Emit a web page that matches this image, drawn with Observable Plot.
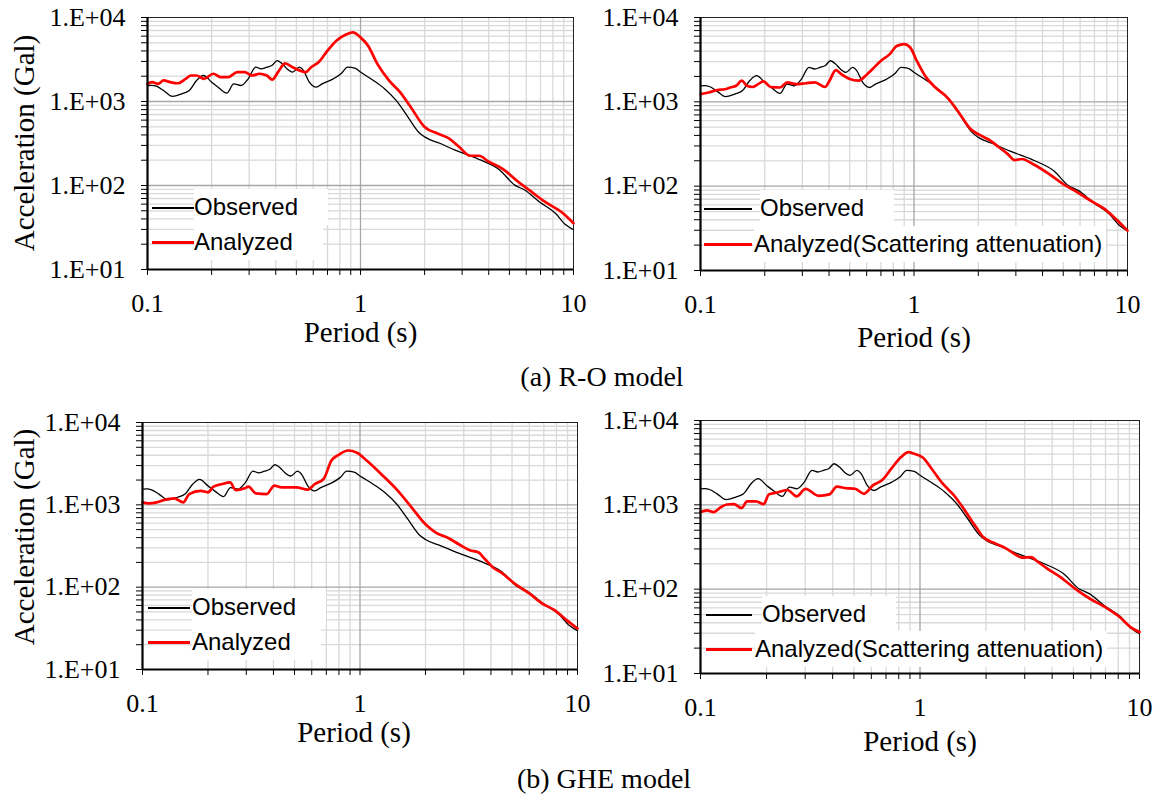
<!DOCTYPE html>
<html><head><meta charset="utf-8">
<script src="https://cdn.jsdelivr.net/npm/d3@7"></script>
<script src="https://cdn.jsdelivr.net/npm/@observablehq/plot@0.6"></script>
<style>
body{margin:0;background:#fff;}
#fig{position:relative;width:1155px;height:794px;font-family:"Liberation Serif","Times New Roman",serif;color:#000;overflow:hidden;}
.panel{position:absolute;}
.cap{position:absolute;font-size:28px;transform:translate(-50%,-50%);white-space:nowrap;}
.ytitle{position:absolute;font-size:29px;transform:translate(-50%,-50%) rotate(-90deg);white-space:nowrap;line-height:1;}
.lg-line{position:absolute;height:0;}
.lg-text{position:absolute;font-family:"Liberation Sans",Arial,sans-serif;font-size:24px;background:#fff;line-height:36px;white-space:nowrap;}
</style></head><body><div id="fig"></div>
<script>
// ---- data ----
const obsT = [0.1,0.105,0.11,0.119,0.131,0.145,0.157,0.17,0.183,0.2,0.216,0.236,0.254,0.275,0.297,0.322,0.342,0.363,0.385,0.406,0.43,0.452,0.48,0.516,0.54,0.575,0.62,0.66,0.745,0.81,0.87,0.94,1.0,1.15,1.3,1.47,1.65,1.87,2.0,2.37,2.78,3.14,3.68,4.5,5.3,5.9,6.9,8.2,9.2,10];
const obsA = [1550,1560,1520,1350,1150,1236,1350,1780,2040,1700,1456,1260,1620,1550,1860,2560,2450,2560,2700,3070,2800,2450,2240,2560,2330,1700,1480,1620,1860,2140,2560,2500,2240,1780,1410,1030,684,434,379,316,264,235,200,153,101,88.5,64,47,34,29.7];

const roT = [0.1,0.105,0.112,0.119,0.128,0.139,0.151,0.16,0.17,0.184,0.204,0.22,0.239,0.264,0.286,0.31,0.335,0.363,0.385,0.41,0.443,0.48,0.52,0.553,0.586,0.635,0.7,0.77,0.86,0.92,1.0,1.085,1.2,1.36,1.53,1.72,2.0,2.3,2.6,2.9,3.27,3.6,4.0,4.7,5.5,6.4,7.3,8.9,10];
const roA = [1620,1700,1620,1780,1700,1650,1860,2040,2040,1860,2140,1950,1950,2240,2240,2040,2140,2040,1820,2240,2850,2560,2330,2240,2560,2930,4030,5290,6330,6640,5800,4600,2800,1780,1300,859,498,415,363,289,226,226,192,155,111,83,64.6,47,35.5];

const roScT = [0.1,0.109,0.12,0.13,0.138,0.147,0.156,0.165,0.175,0.186,0.197,0.213,0.236,0.255,0.281,0.31,0.343,0.383,0.402,0.43,0.46,0.5,0.55,0.6,0.64,0.7,0.77,0.83,0.9,0.96,1.03,1.14,1.26,1.43,1.6,1.84,2.06,2.28,2.5,2.75,2.96,3.2,3.6,4.3,5.0,5.8,6.9,7.8,8.8,10];
const roScA = [1236,1290,1380,1410,1480,1550,1780,1550,1500,1620,1750,1500,1480,1700,1620,1660,1700,1500,1780,2380,2100,1860,1780,2100,2450,3070,3680,4600,4830,4410,3070,1950,1480,1130,785,476,397,347,289,240,204,210,183,139,106,85,64.6,53.7,41,29.7];

const gheT = [0.1,0.107,0.116,0.125,0.14,0.154,0.164,0.185,0.2,0.212,0.233,0.253,0.268,0.295,0.307,0.332,0.372,0.404,0.436,0.51,0.575,0.62,0.68,0.74,0.8,0.88,0.97,1.07,1.25,1.47,1.7,2.0,2.24,2.53,2.86,3.2,3.5,3.75,4.1,4.5,5.1,6.0,6.9,7.9,8.9,10];
const gheA = [1070,1040,1070,1140,1200,1070,1350,1480,1420,1660,1790,1870,1510,1590,1660,1380,1350,1710,1630,1630,1530,1790,2060,3470,4070,4570,4300,3470,2370,1550,980,580,457,398,330,281,265,220,172,148,112,84,63,52,39.8,31.5];

const gheScT = [0.1,0.107,0.115,0.124,0.132,0.142,0.154,0.163,0.179,0.194,0.205,0.226,0.249,0.274,0.301,0.345,0.387,0.418,0.46,0.506,0.556,0.61,0.675,0.74,0.82,0.886,0.94,1.03,1.13,1.27,1.43,1.6,1.8,1.94,2.18,2.45,2.76,2.92,3.2,3.46,3.8,4.36,5.1,5.95,6.95,8.1,9.1,10];
const gheScA = [820,860,820,942,1010,1020,915,1100,1100,1020,1330,1410,1500,1260,1550,1280,1330,1640,1580,1550,1350,1700,1980,2680,3680,4220,4030,3640,2680,1780,1290,860,545,415,352,307,252,237,240,209,175,139,101,77,61.5,47,35.5,31];

const xTicks = [0.1,0.2,0.3,0.4,0.5,0.6,0.7,0.8,0.9,1,2,3,4,5,6,7,8,9,10];
const xLabels = new Map([[0.1,"0.1"],[1,"1"],[10,"10"]]);
const yTicks = [10,20,30,40,50,60,70,80,90,100,200,300,400,500,600,700,800,900,1000,2000,3000,4000,5000,6000,7000,8000,9000,10000];
const yLabels = new Map([[10,"1.E+01"],[100,"1.E+02"],[1000,"1.E+03"],[10000,"1.E+04"]]);
const xMajorGrid = [1];
const yMajorGrid = [100,1000];

const seriesNames = ["Observed","Analyzed","Analyzed(Scattering attenuation)"];
const captions = ["(a) R-O model","(b) GHE model"];
const xTitle = "Period (s)";
const yTitle = "Acceleration (Gal)";

const zip = (T, A) => T.map((t, i) => ({T: t, A: A[i]}));
const obs = zip(obsT, obsA);

// ---- layout ----
const panels = [
  {ana: zip(roT, roA), label: seriesNames[1], left: 0, top: 0, width: 590, height: 380, mL: 147, mR: 17, mT: 17, mB: 111, yTitle: [24, 143], xtDx: 0, xtDy: 72,
   lg: {x1: 152, x2: 194, tObs: 194, tAna: 194, yObs: 208, yAna: 243}},
  {ana: zip(roScT, roScA), label: seriesNames[2], left: 590, top: 0, width: 565, height: 380, mL: 110, mR: 28, mT: 17, mB: 110, yTitle: null, xtDx: 0, xtDy: 76,
   lg: {x1: 704, x2: 752, tObs: 760, tAna: 754, yObs: 209, yAna: 245}},
  {ana: zip(gheT, gheA), label: seriesNames[1], left: 0, top: 395, width: 590, height: 395, mL: 142, mR: 13, mT: 27, mB: 121, yTitle: [24, 537], xtDx: -6, xtDy: 72,
   lg: {x1: 148, x2: 190, tObs: 192, tAna: 192, yObs: 608, yAna: 643}},
  {ana: zip(gheScT, gheScA), label: seriesNames[2], left: 590, top: 395, width: 565, height: 395, mL: 110, mR: 16, mT: 25, mB: 117, yTitle: null, xtDx: 0, xtDy: 77,
   lg: {x1: 706, x2: 752, tObs: 762, tAna: 755, yObs: 615, yAna: 650}}
];
const capPos = [[602, 377], [604, 779]];

const fig = document.getElementById("fig");

for (const p of panels) {
  const marks = [
    Plot.ruleX(xTicks.filter(d => !xLabels.has(d)), {stroke: "#d9d9d9", strokeWidth: 1.3}),
    Plot.ruleY(yTicks.filter(d => !yLabels.has(d)), {stroke: "#d9d9d9", strokeWidth: 1.3}),
    Plot.ruleX(xMajorGrid, {stroke: "#a6a6a6", strokeWidth: 1.3}),
    Plot.ruleY(yMajorGrid, {stroke: "#a6a6a6", strokeWidth: 1.3}),
    Plot.frame({stroke: "#222", strokeWidth: 1}),
    Plot.line(obs, {x: "T", y: "A", stroke: "#000", strokeWidth: 1.3, curve: "monotone-x"}),
    Plot.line(p.ana, {x: "T", y: "A", stroke: "#ff0000", strokeWidth: 2.7, curve: "monotone-x"}),
    Plot.ruleX([0.1], {stroke: "#000", strokeWidth: 2.2}),
    Plot.ruleY([10], {stroke: "#000", strokeWidth: 2.2}),
    Plot.text([xTitle], {text: d => d, frameAnchor: "bottom", dx: p.xtDx, dy: p.xtDy, fontSize: 29})
  ];
  const svg = Plot.plot({
    width: p.width, height: p.height,
    marginLeft: p.mL, marginRight: p.mR, marginTop: p.mT, marginBottom: p.mB,
    style: {background: "transparent", fontFamily: "'Liberation Serif', 'Times New Roman', serif", fontSize: "26px", color: "#000", overflow: "visible"},
    x: {type: "log", domain: [0.1, 10], ticks: xTicks, tickFormat: d => xLabels.get(d) ?? "", tickSize: 6, tickPadding: 18, label: null},
    y: {type: "log", domain: [10, 10000], ticks: yTicks, tickFormat: d => yLabels.get(d) ?? "", tickSize: 6, tickPadding: 16, label: null},
    marks
  });
  const wrap = document.createElement("div");
  wrap.className = "panel";
  wrap.style.left = p.left + "px";
  wrap.style.top = p.top + "px";
  wrap.appendChild(svg);
  fig.appendChild(wrap);

  if (p.yTitle) {
    const yt = document.createElement("div");
    yt.className = "ytitle";
    yt.textContent = yTitle;
    yt.style.left = p.yTitle[0] + "px";
    yt.style.top = p.yTitle[1] + "px";
    fig.appendChild(yt);
  }

  // legend
  const entries = [
    {name: seriesNames[0], color: "#000", w: 2.6, y: p.lg.yObs, tx: p.lg.tObs},
    {name: p.label, color: "#ff0000", w: 3.2, y: p.lg.yAna, tx: p.lg.tAna}
  ];
  for (const e of entries) {
    const t = document.createElement("div");
    t.className = "lg-text";
    t.textContent = e.name;
    t.style.left = e.tx + "px";
    t.style.top = (e.y - 19) + "px";
    t.style.paddingRight = (e.name.length > 12 ? 4 : 30) + "px";
    fig.appendChild(t);
    const l = document.createElement("div");
    l.className = "lg-line";
    l.style.left = p.lg.x1 + "px";
    l.style.width = (p.lg.x2 - p.lg.x1) + "px";
    l.style.top = (e.y - e.w / 2) + "px";
    l.style.borderTop = e.w + "px solid " + e.color;
    fig.appendChild(l);
  }
}

captions.forEach((c, i) => {
  const d = document.createElement("div");
  d.className = "cap";
  d.textContent = c;
  d.style.left = capPos[i][0] + "px";
  d.style.top = capPos[i][1] + "px";
  fig.appendChild(d);
});
</script>
</body></html>
